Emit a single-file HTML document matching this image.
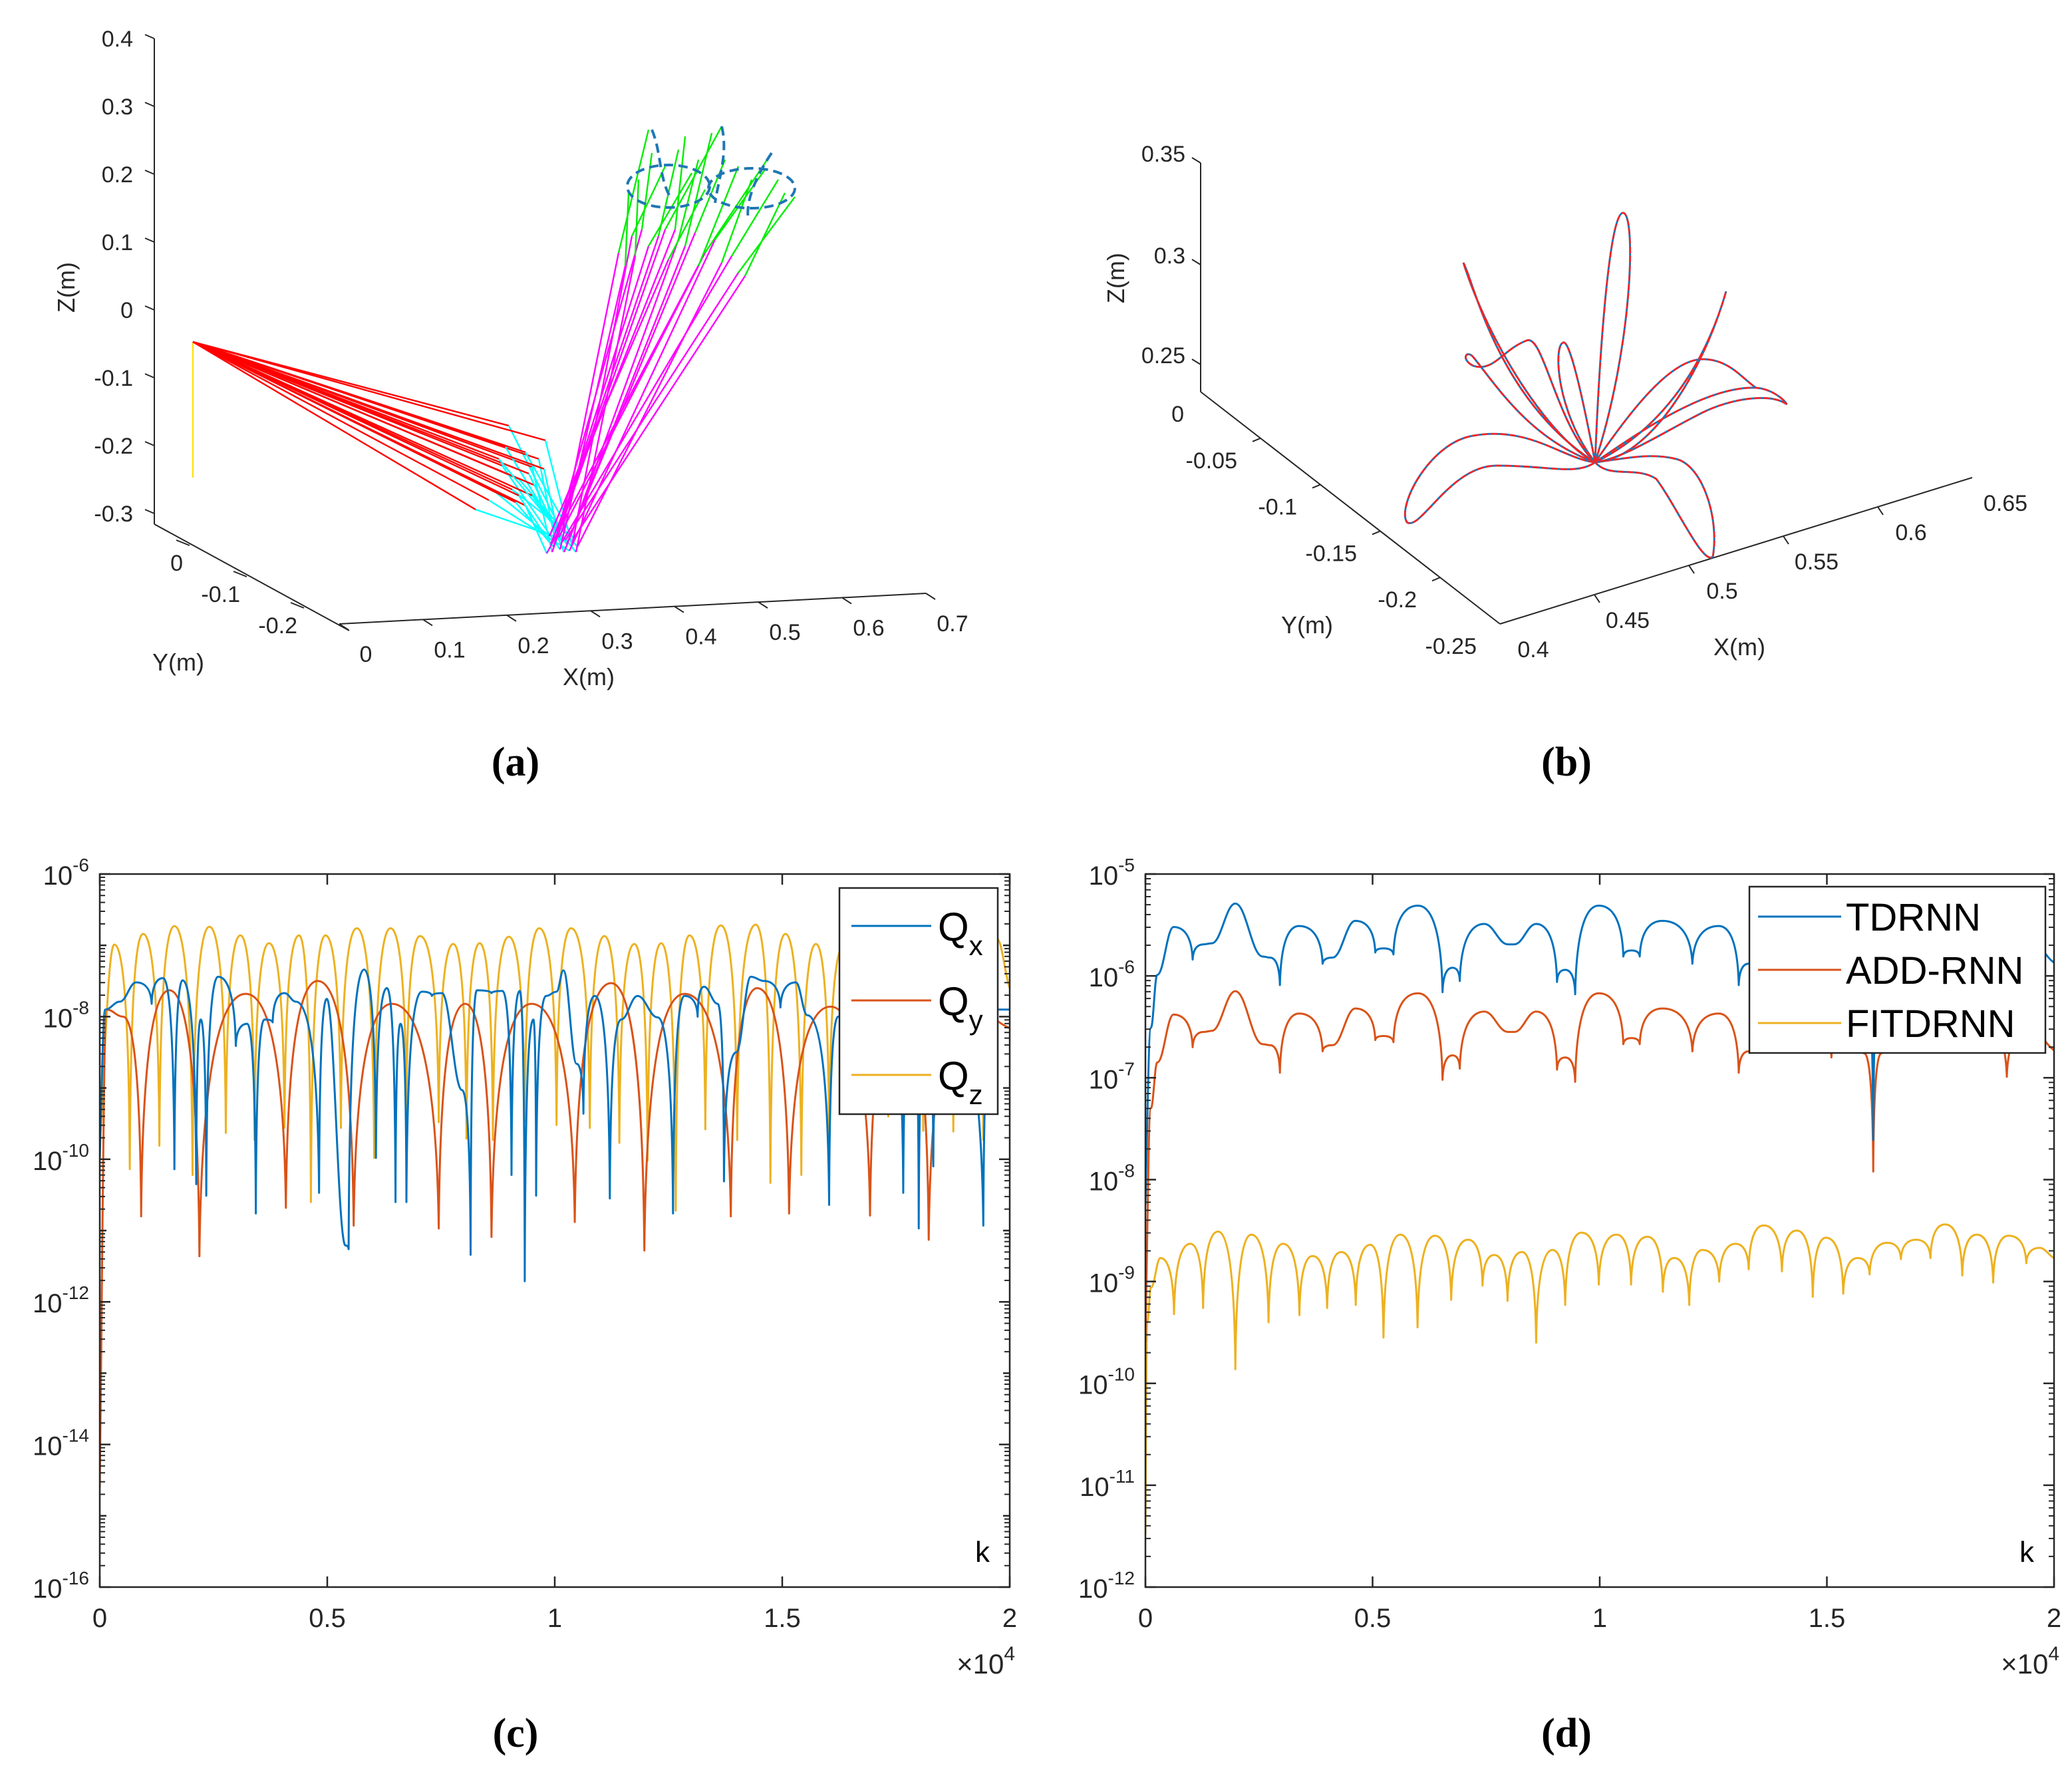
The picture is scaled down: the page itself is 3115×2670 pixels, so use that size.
<!DOCTYPE html>
<html><head><meta charset="utf-8">
<style>
html,body{margin:0;padding:0;background:#fff;}
svg{display:block;font-family:"Liberation Sans",sans-serif;}
.cap{font-family:"Liberation Serif",serif;font-weight:bold;font-size:62px;}
</style></head>
<body>
<svg id="fig" width="3115" height="2670" viewBox="0 0 3115 2670" xmlns="http://www.w3.org/2000/svg">
<rect width="3115" height="2670" fill="#fff"/>
<g id="pa"></g>
<g id="pb"></g>
<g id="pc"></g>
<g id="pd"></g>
<text class="cap" x="775" y="1166" text-anchor="middle">(a)</text>
<text class="cap" x="2355" y="1166" text-anchor="middle">(b)</text>
<text class="cap" x="775" y="2626" text-anchor="middle">(c)</text>
<text class="cap" x="2355" y="2626" text-anchor="middle">(d)</text>
</svg>
<script>
// ---------- Panel (c) data: k in units of 1e4, values as log10 ----------
const cQxK=[0,.012,.044,.080,.114,.139,.164,.182,.212,.222,.234,.260,.299,.324,.343,.362,.380,.406,.431,.482,.499,.540,.547,.581,.607,.631,.650,.661,.674,.708,.730,.752,.796,.815,.829,.861,.885,.905,.923,.934,.953,.959,.981,1.004,1.019,1.048,1.063,1.088,1.121,1.146,1.182,1.226,1.260,1.285,1.314,1.328,1.358,1.372,1.399,1.431,1.460,1.496,1.530,1.555,1.603,1.623,1.679,1.737,1.766,1.788,1.800,1.818,1.832,1.854,1.942,1.964,2.0];
const cQxV=[-9.98,-7.90,-7.79,-7.52,-7.82,-7.46,-10.14,-7.49,-10.35,-8.04,-10.51,-7.44,-8.41,-8.10,-10.76,-8.04,-8.08,-7.67,-7.79,-10.47,-7.75,-11.21,-11.26,-7.34,-9.98,-7.60,-10.60,-8.10,-10.60,-7.65,-7.71,-7.67,-9.03,-11.34,-7.63,-7.67,-7.64,-10.22,-7.64,-11.71,-8.04,-10.51,-7.71,-7.65,-7.35,-8.66,-9.36,-7.71,-10.55,-8.04,-7.71,-8.01,-10.76,-7.71,-8.00,-7.58,-7.82,-10.31,-8.5,-7.44,-7.50,-7.87,-7.52,-7.98,-10.64,-8.0,-7.7,-8.0,-10.47,-7.8,-10.97,-7.9,-10.10,-7.8,-10.93,-7.9,-7.90];
const cQyK=[0,.015,.051,.091,.153,.219,.321,.409,.479,.558,.642,.745,.803,.861,.949,1.044,1.124,1.197,1.285,1.387,1.445,1.515,1.606,1.693,1.759,1.822,1.912,2.0];
const cQyV=[-14.60,-7.90,-8.0,-10.80,-7.63,-11.36,-7.68,-10.68,-7.50,-10.93,-7.82,-10.97,-7.82,-11.09,-7.82,-10.88,-7.53,-11.28,-7.68,-10.80,-7.60,-10.76,-7.86,-10.79,-7.7,-11.13,-7.86,-8.16];
const cQzK=[0,.032,.066,.095,.131,.164,.204,.241,.277,.309,.340,.372,.406,.438,.464,.496,.530,.565,.603,.639,.674,.704,.745,.777,.806,.835,.864,.899,.934,.966,1.004,1.036,1.077,1.109,1.142,1.175,1.204,1.234,1.266,1.296,1.331,1.365,1.401,1.442,1.474,1.507,1.542,1.574,1.603,1.635,1.672,1.701,1.733,1.766,1.810,1.842,1.876,1.909,1.942,1.971,2.0];
const cQzV=[-9.81,-6.99,-10.14,-6.84,-9.81,-6.73,-10.22,-6.74,-9.63,-6.86,-9.73,-6.97,-9.56,-6.86,-10.60,-6.86,-9.56,-6.76,-9.98,-6.76,-9.32,-6.87,-9.48,-6.98,-9.71,-6.97,-9.73,-6.88,-9.48,-6.76,-9.52,-6.76,-9.56,-6.87,-9.77,-6.98,-10.02,-6.97,-10.72,-6.86,-9.58,-6.72,-9.73,-6.71,-10.33,-6.84,-10.22,-6.98,-9.77,-7.01,-9.32,-6.85,-9.40,-6.9,-9.6,-6.85,-9.61,-6.9,-9.73,-6.9,-7.6];
const cLegend=["x","y","z"];
const cYTicks=[-16,-14,-12,-10,-8,-6];
const xTickVals=[0,0.5,1,1.5,2];
const xTickLabels=["0","0.5","1","1.5","2"];
// ---------- Panel (d) data ----------
const dTDK=[0,.012,.026,.062,.104,.128,.146,.198,.258,.274,.296,.338,.39,.412,.462,.506,.524,.546,.6,.654,.676,.692,.746,.798,.812,.86,.906,.924,.946,.998,1.052,1.07,1.088,1.138,1.204,1.262,1.306,1.328,1.364,1.422,1.466,1.51,1.554,1.582,1.602,1.62,1.656,1.714,1.772,1.844,1.896,1.946,2.0];
const dTDV=[-8.25,-6.51,-5.99,-5.52,-5.84,-5.69,-5.68,-5.29,-5.81,-5.82,-6.09,-5.51,-5.88,-5.82,-5.46,-5.77,-5.73,-5.79,-5.31,-6.16,-5.92,-6.05,-5.49,-5.69,-5.69,-5.49,-6.06,-5.94,-6.18,-5.31,-5.81,-5.75,-5.81,-5.46,-5.88,-5.51,-6.09,-5.88,-5.36,-5.65,-5.59,-5.94,-5.59,-5.9,-7.61,-5.9,-5.53,-5.8,-5.36,-5.6,-6.13,-5.65,-5.87];
const dADDK=[0,.012,.026,.062,.104,.128,.146,.198,.258,.274,.296,.338,.39,.412,.462,.506,.524,.546,.6,.654,.676,.692,.746,.798,.812,.86,.906,.924,.946,.998,1.052,1.07,1.088,1.138,1.204,1.262,1.306,1.328,1.364,1.422,1.466,1.51,1.554,1.582,1.602,1.62,1.656,1.714,1.772,1.844,1.896,1.946,2.0];
const dADDV=[-9.6,-7.3,-6.85,-6.38,-6.70,-6.55,-6.54,-6.15,-6.67,-6.68,-6.95,-6.37,-6.74,-6.68,-6.32,-6.63,-6.59,-6.65,-6.17,-7.02,-6.78,-6.91,-6.35,-6.55,-6.55,-6.35,-6.92,-6.80,-7.04,-6.17,-6.67,-6.61,-6.67,-6.32,-6.74,-6.37,-6.95,-6.74,-6.22,-6.51,-6.45,-6.80,-6.45,-6.76,-7.92,-6.76,-6.39,-6.66,-6.22,-6.46,-6.99,-6.51,-6.73];
const dFITK=[0,.004,.012,.033,.063,.099,.127,.160,.198,.233,.271,.303,.339,.368,.4,.431,.463,.495,.524,.561,.599,.637,.673,.710,.742,.768,.797,.829,.860,.896,.924,.960,.998,1.037,1.069,1.105,1.139,1.164,1.197,1.226,1.263,1.299,1.328,1.361,1.401,1.434,1.469,1.498,1.536,1.568,1.594,1.633,1.663,1.696,1.728,1.760,1.798,1.830,1.866,1.900,1.939,1.968,2.0];
const dFITV=[-11.48,-9.40,-9.06,-8.77,-9.32,-8.63,-9.26,-8.51,-9.86,-8.54,-9.40,-8.63,-9.33,-8.75,-9.26,-8.71,-9.23,-8.64,-9.55,-8.54,-9.45,-8.55,-9.18,-8.59,-9.04,-8.74,-9.19,-8.71,-9.60,-8.69,-9.23,-8.52,-9.03,-8.54,-9.03,-8.56,-9.10,-8.77,-9.23,-8.69,-9.00,-8.63,-8.88,-8.45,-8.90,-8.50,-9.15,-8.57,-9.12,-8.77,-8.93,-8.62,-8.78,-8.59,-8.77,-8.44,-8.94,-8.54,-9.01,-8.55,-8.82,-8.67,-8.77];
const dLegend=["TDRNN","ADD-RNN","FITDRNN"];
const dYTicks=[-12,-11,-10,-9,-8,-7,-6,-5];

const NS="http://www.w3.org/2000/svg";
const BLUE="#0072BD",RED="#D95319",YEL="#EDB120",AX="#262626";
function el(tag,attrs,parent){const e=document.createElementNS(NS,tag);for(const k in attrs)e.setAttribute(k,attrs[k]);if(parent)parent.appendChild(e);return e;}

function smoothPath(pts){
  const n=pts.length;
  const isDip=i=>i>0&&i<n-1&&pts[i][1]>pts[i-1][1]&&pts[i][1]>pts[i+1][1];
  let d="M"+pts[0][0].toFixed(1)+","+pts[0][1].toFixed(1);
  for(let i=0;i<n-1;i++){
    const A=pts[i],B=pts[i+1],dx=B[0]-A[0],dy=B[1]-A[1];
    let c1,c2;
    if(isDip(i)) c1=[A[0]+0.06*dx,A[1]+0.85*dy]; else c1=[A[0]+0.4*dx,A[1]+(i===0?0.5*dy:0)];
    if(isDip(i+1)) c2=[B[0]-0.06*dx,B[1]-0.85*dy]; else c2=[B[0]-0.4*dx,B[1]-(i+1===n-1?0.3*dy:0)];
    d+=" C"+c1[0].toFixed(1)+","+c1[1].toFixed(1)+" "+c2[0].toFixed(1)+","+c2[1].toFixed(1)+" "+B[0].toFixed(1)+","+B[1].toFixed(1);
  }
  return d;
}

function logChart(g,cfg){
  const {L,R,T,B,yMin,yMax,yTicks,series}=cfg;
  const xs=k=>L+(k/2)*(R-L);
  const ys=v=>B-(v-yMin)/(yMax-yMin)*(B-T);
  const clip=el("clipPath",{id:cfg.id+"clip"},g);
  el("rect",{x:L,y:T,width:R-L,height:B-T},clip);
  const sg=el("g",{"clip-path":"url(#"+cfg.id+"clip)"},g);
  series.forEach(s=>{
    const pts=s.k.map((k,i)=>[xs(k),ys(s.v[i])]);
    const p=el("path",{d:smoothPath(pts),fill:"none",stroke:s.color,"stroke-width":3,"stroke-linejoin":"round"},sg);
    
    
  });
  const box=el("rect",{x:L,y:T,width:R-L,height:B-T,fill:"none",stroke:AX,"stroke-width":2.5},g);
  
  
  for(let e=yMin;e<=yMax;e++){
    const y=ys(e);
    const major=yTicks.includes(e);
    const len=major?16:10;
    el("line",{x1:L,y1:y,x2:L+len,y2:y,stroke:AX,"stroke-width":2.5},g);
    el("line",{x1:R,y1:y,x2:R-len,y2:y,stroke:AX,"stroke-width":2.5},g);
    if(e<yMax){for(let m=2;m<=9;m++){const ym=ys(e+Math.log10(m));
      el("line",{x1:L,y1:ym,x2:L+8,y2:ym,stroke:AX,"stroke-width":2},g);
      el("line",{x1:R,y1:ym,x2:R-8,y2:ym,stroke:AX,"stroke-width":2},g);}}
  }
  yTicks.forEach(e=>{
    const y=ys(e);
    const t=el("text",{x:L-16,y:y+16,"text-anchor":"end","font-size":40,fill:AX},g);
    
    
    t.appendChild(document.createTextNode("10"));
    const sp=el("tspan",{dy:-20,"font-size":28},t); sp.textContent=String(e);
  });
  xTickVals.forEach((k,i)=>{
    const x=xs(k);
    el("line",{x1:x,y1:B,x2:x,y2:B-16,stroke:AX,"stroke-width":2.5},g);
    el("line",{x1:x,y1:T,x2:x,y2:T+16,stroke:AX,"stroke-width":2.5},g);
    const t=el("text",{x:x,y:B+60,"text-anchor":"middle","font-size":40,fill:AX},g);
    
    
    t.textContent=xTickLabels[i];
  });
  const mult=el("text",{x:R+8,y:B+130,"text-anchor":"end","font-size":42,fill:AX},g);
  
  
  mult.appendChild(document.createTextNode("×10"));
  const ms=el("tspan",{dy:-20,"font-size":30},mult); ms.textContent="4";
  const kl=el("text",{x:R-30,y:B-38,"text-anchor":"end","font-size":44,fill:"#000"},g);
  
  
  kl.textContent="k";
}

const pc=document.getElementById("pc");
logChart(pc,{id:"c",L:150,R:1518,T:1314,B:2386,yMin:-16,yMax:-6,yTicks:cYTicks,series:[
  {k:cQzK,v:cQzV,color:YEL,name:"series-qz"},
  {k:cQyK,v:cQyV,color:RED,name:"series-qy"},
  {k:cQxK,v:cQxV,color:BLUE,name:"series-qx"}]});
{
  const lg=el("g",{},pc);
  
  
  el("rect",{x:1262,y:1335,width:238,height:340,fill:"#fff",stroke:AX,"stroke-width":2.5},lg);
  const cols=[BLUE,RED,YEL];
  cLegend.forEach((s,i)=>{
    const y=1392+i*112;
    el("line",{x1:1280,y1:y,x2:1400,y2:y,stroke:cols[i],"stroke-width":3},lg);
    const t=el("text",{x:1410,y:y+22,"font-size":60,fill:"#000"},lg);
    
    
    t.appendChild(document.createTextNode("Q"));
    const sp=el("tspan",{dy:22,"font-size":42},t); sp.textContent=s;
  });
}
const pd=document.getElementById("pd");
logChart(pd,{id:"d",L:1722,R:3088,T:1314,B:2386,yMin:-12,yMax:-5,yTicks:dYTicks,series:[
  {k:dFITK,v:dFITV,color:YEL,name:"series-fitdrnn"},
  {k:dADDK,v:dADDV,color:RED,name:"series-add-rnn"},
  {k:dTDK,v:dTDV,color:BLUE,name:"series-tdrnn"}]});
{
  const lg=el("g",{},pd);
  
  
  el("rect",{x:2630,y:1333,width:445,height:250,fill:"#fff",stroke:AX,"stroke-width":2.5},lg);
  const cols=[BLUE,RED,YEL];
  dLegend.forEach((s,i)=>{
    const y=1378+i*80;
    el("line",{x1:2643,y1:y,x2:2768,y2:y,stroke:cols[i],"stroke-width":3},lg);
    const t=el("text",{x:2775,y:y+21,"font-size":58,fill:"#000"},lg);
    
    
    t.textContent=s;
  });
}

// ---------- Panel (a) 3D robot ----------
const aApex=[290,514];
const aRedEnd=[[765,640],[820,662],[800,702],[790,760],[715,766],[770,736],[810,690],[780,720],[755,700],[800,745],[745,740],[790,680],[760,672],[805,730],[735,752],[775,755],[795,712],[750,690],[818,705],[780,745]];
const aElbow=[[845,800],[860,820],[830,830],[822,832],[850,812],[858,805],[835,815],[868,822],[842,826],[852,818],[826,806],[862,810],[838,800],[848,830],[856,828],[832,822],[845,815],[866,830],[840,808],[828,818]];
const aShoulder=[[930,380],[950,355],[1000,345],[1060,380],[1110,410],[1020,360],[975,370],[1085,395],[940,400],[1045,350],[1005,390],[1120,415],[965,345],[1030,370],[1075,360],[990,355],[1100,385],[955,385],[1050,400],[1015,345]];
const aTop=[[975,195],[1000,250],[1085,190],[1160,230],[1195,296],[1050,240],[1040,260],[1130,270],[945,290],[1090,240],[1060,285],[1180,290],[980,230],[1070,200],[1150,255],[1020,225],[1170,270],[960,270],[1110,250],[1030,205]];
const aZTicks=["0.4","0.3","0.2","0.1","0","-0.1","-0.2","-0.3"];
const aXTicks=["0","0.1","0.2","0.3","0.4","0.5","0.6","0.7"];
const aYTicks=["0","-0.1","-0.2"];
{
  const g=document.getElementById("pa");
  const ax=el("g",{stroke:AX,"stroke-width":2,fill:"none"},g);
  el("line",{x1:232,y1:58,x2:232,y2:788},ax);
  el("line",{x1:232,y1:788,x2:525,y2:948},ax);
  el("line",{x1:510,y1:938,x2:1392,y2:892},ax);
  aZTicks.forEach((s,i)=>{const y=58+i*102;
    el("line",{x1:232,y1:y,x2:218,y2:y-6},ax);
    const t=el("text",{x:200,y:y+12,"text-anchor":"end","font-size":34,fill:AX},g);
    
    
    t.textContent=s;});
  aXTicks.forEach((s,i)=>{const x=510+i*126,y=938-i*6.57;
    el("line",{x1:x,y1:y,x2:x+14,y2:y+9},ax);
    const t=el("text",{x:x+40,y:y+57,"text-anchor":"middle","font-size":34,fill:AX},g);
    
    
    t.textContent=s;});
  aYTicks.forEach((s,i)=>{const x=285+i*86,y=820+i*47;
    el("line",{x1:x-20,y1:y-8,x2:x,y2:y},ax);
    const t=el("text",{x:x-10,y:y+38,"text-anchor":"end","font-size":34,fill:AX},g);
    
    
    t.textContent=s;});
  const lbls=[["X(m)",885,1030,0],["Y(m)",268,1008,0],["Z(m)",112,432,-90]];
  lbls.forEach(([s,x,y,r])=>{const t=el("text",{x:x,y:y,"text-anchor":"middle","font-size":36,fill:AX,transform:r?`rotate(${r} ${x} ${y})`:""},g);
    
    
    t.textContent=s;});
  el("line",{x1:aApex[0],y1:aApex[1],x2:aApex[0],y2:718,stroke:"#ffdd00","stroke-width":2},g);
  aRedEnd.forEach((r,i)=>{
    el("line",{x1:aApex[0],y1:aApex[1],x2:r[0],y2:r[1],stroke:"#ff0000","stroke-width":2.4},g);
    el("line",{x1:r[0],y1:r[1],x2:aElbow[i][0],y2:aElbow[i][1],stroke:"#00ffff","stroke-width":2.4},g);
  });
  aElbow.forEach((e,i)=>el("line",{x1:e[0],y1:e[1],x2:aShoulder[i][0],y2:aShoulder[i][1],stroke:"#ff00ff","stroke-width":2.4},g));
  aShoulder.forEach((s,i)=>el("line",{x1:s[0],y1:s[1],x2:aTop[i][0],y2:aTop[i][1],stroke:"#00ee00","stroke-width":2.4},g));
  const dash={fill:"none",stroke:"#1f77b4","stroke-width":4,"stroke-dasharray":"14 8"};
  el("ellipse",Object.assign({cx:1005,cy:280,rx:62,ry:32},dash),g);
  el("ellipse",Object.assign({cx:1130,cy:283,rx:65,ry:30},dash),g);
  el("path",Object.assign({d:"M980,195 C995,230 990,270 1010,300 M1085,190 C1095,230 1080,270 1075,305 M1160,230 C1140,260 1120,300 1125,330"},dash),g);
}

// ---------- Panel (b) 3D trajectory ----------
const bZTicks=["0.35","0.3","0.25"];
const bZPos=[245,398,548];
const bYTicks=["0","-0.05","-0.1","-0.15","-0.2","-0.25"];
const bXTicks=["0.4","0.45","0.5","0.55","0.6","0.65"];
{
  const g=document.getElementById("pb");
  const ax=el("g",{stroke:AX,"stroke-width":2,fill:"none"},g);
  el("line",{x1:1805,y1:245,x2:1805,y2:589},ax);
  el("line",{x1:1805,y1:589,x2:2255,y2:938},ax);
  el("line",{x1:2255,y1:938,x2:2965,y2:718},ax);
  bZTicks.forEach((s,i)=>{const y=bZPos[i];
    el("line",{x1:1805,y1:y,x2:1792,y2:y-8},ax);
    const t=el("text",{x:1782,y:y-2,"text-anchor":"end","font-size":34,fill:AX},g);
    
    
    t.textContent=s;});
  bYTicks.forEach((s,i)=>{const x=1805+i*90,y=589+i*69.8;
    if(i>0&&i<5) el("line",{x1:x,y1:y,x2:x-12,y2:y+5},ax);
    const t=el("text",{x:x-35+(i===0?10:0),y:y+45,"text-anchor":"end","font-size":34,fill:AX},g);
    
    
    t.textContent=s;});
  bXTicks.forEach((s,i)=>{const x=2255+i*142,y=938-i*44;
    if(i>0&&i<5) el("line",{x1:x,y1:y,x2:x+8,y2:y+12},ax);
    const t=el("text",{x:x+50,y:y+50,"text-anchor":"middle","font-size":34,fill:AX},g);
    
    
    t.textContent=s;});
  const lbls=[["X(m)",2615,985,0],["Y(m)",1965,952,0],["Z(m)",1690,418,-90]];
  lbls.forEach(([s,x,y,r])=>{const t=el("text",{x:x,y:y,"text-anchor":"middle","font-size":36,fill:AX,transform:r?`rotate(${r} ${x} ${y})`:""},g);
    
    
    t.textContent=s;});
  const petals=[
   "M2398,695 C2405,520 2420,320 2440,320 C2460,320 2455,520 2398,695",
   "M2398,695 C2330,660 2240,520 2200,395 C2215,420 2250,600 2398,695",
   "M2398,695 C2490,650 2560,560 2595,438 C2560,560 2480,690 2398,695",
   "M2398,695 C2340,640 2320,500 2295,512 C2260,525 2245,560 2215,550 C2195,540 2205,525 2215,537 C2250,580 2300,660 2398,695",
   "M2398,695 C2350,690 2300,640 2215,655 C2150,665 2100,760 2115,785 C2135,800 2180,700 2250,700 C2330,700 2370,715 2398,695",
   "M2398,695 C2440,690 2480,680 2520,690 C2560,700 2585,780 2575,837 C2560,850 2520,760 2490,720 C2460,700 2420,720 2398,695",
   "M2398,695 C2450,660 2560,580 2640,583 C2670,585 2690,610 2685,607 C2660,590 2600,600 2560,620 C2500,650 2440,690 2398,695",
   "M2398,695 C2380,600 2360,510 2350,515 C2335,520 2340,620 2398,695",
   "M2398,695 C2450,620 2510,540 2560,540 C2600,540 2620,570 2640,583"];
  petals.forEach(d=>{
    el("path",{d:d,fill:"none",stroke:"#1f77b4","stroke-width":3},g);
    const p=el("path",{d:d,fill:"none",stroke:"#ff2020","stroke-width":2.5,"stroke-dasharray":"10 4"},g);
    
    
  });
}
</script>
</body></html>
